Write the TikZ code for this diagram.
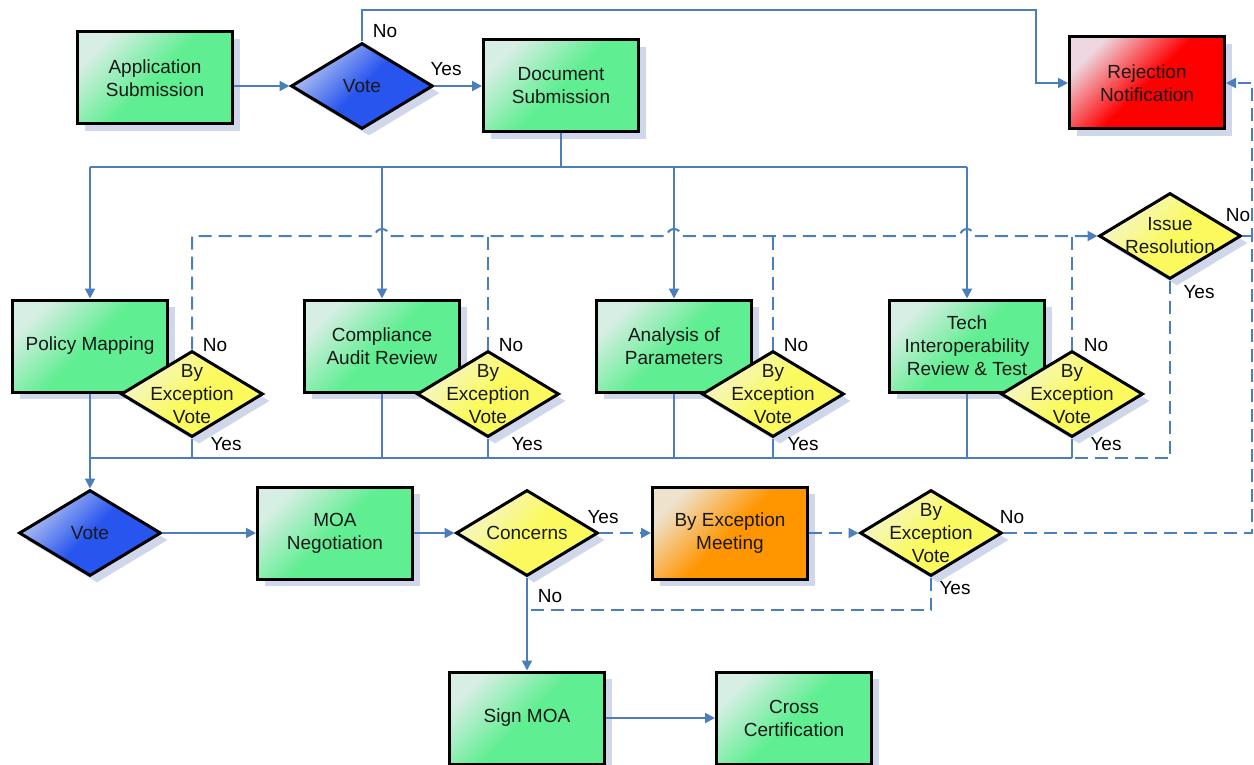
\documentclass[tikz,border=0pt]{standalone}
\usepackage{fontspec}
\setmainfont{Liberation Sans}
\usetikzlibrary{shapes.geometric,arrows.meta,shadows}
\definecolor{lineblue}{RGB}{74,126,190}
\definecolor{shadowc}{RGB}{208,215,235}
\definecolor{gA}{RGB}{215,238,228}
\definecolor{gB}{RGB}{95,238,145}
\definecolor{bA}{RGB}{185,200,242}
\definecolor{bB}{RGB}{40,85,238}
\definecolor{yA}{RGB}{245,245,208}
\definecolor{yB}{RGB}{250,250,95}
\definecolor{rA}{RGB}{238,215,225}
\definecolor{rB}{RGB}{255,0,0}
\definecolor{oA}{RGB}{238,226,205}
\definecolor{oB}{RGB}{255,150,0}
\begin{document}
\begin{tikzpicture}[x=1pt,y=-1pt,
  every node/.style={font=\fontsize{19}{23}\selectfont, text=black!90},
  shadowed/.style={drop shadow={shadow xshift=7pt, shadow yshift=-7pt, fill=shadowc, opacity=1}},
  box/.style={rectangle, draw=black, line width=3pt, minimum width=155pt, minimum height=92pt, align=center, inner sep=2pt, shadowed},
  greenbox/.style={box, top color=gA, bottom color=gB, middle color=gB, shading angle=45},
  redbox/.style={box, top color=rA, bottom color=rB, middle color=rB, shading angle=45},
  orangebox/.style={box, top color=oA, bottom color=oB, middle color=oB, shading angle=45},
  dia/.style={diamond, draw=black, line width=3pt, minimum width=142pt, minimum height=86pt, inner sep=0pt, shadowed},
  bluedia/.style={dia, top color=bA, bottom color=bB, middle color=bB, shading angle=45},
  yellowdia/.style={dia, top color=yA, bottom color=yB, middle color=yB, shading angle=45},
  inlbl/.style={align=center},
  conn/.style={draw=lineblue, line width=2pt},
  arr/.style={-{Triangle[length=10pt,width=10pt]}},
  dashline/.style={dash pattern=on 13pt off 7pt},
  lbl/.style={inner sep=0pt, text=black}
  ]
\useasboundingbox (0,0) rectangle (1254,765);

% ---- nodes ----
\node[greenbox] (app) at (155,78) {Application\\Submission};
\node[bluedia, label={[inlbl]center:Vote}] (vote1) at (362,86) {};
\node[greenbox] (doc) at (561,86) {Document\\Submission};
\node[redbox] (rej) at (1147,83) {Rejection\\Notification};

\node[greenbox] (pm) at (90,346) {Policy Mapping};
\node[yellowdia, label={[inlbl]center:By\\Exception\\Vote}] (ev1) at (192,394) {};
\node[greenbox] (car) at (382,346) {Compliance\\Audit Review};
\node[yellowdia, label={[inlbl]center:By\\Exception\\Vote}] (ev2) at (488,394) {};
\node[greenbox] (ana) at (674,346) {Analysis of\\Parameters};
\node[yellowdia, label={[inlbl]center:By\\Exception\\Vote}] (ev3) at (773,394) {};
\node[greenbox] (tech) at (967,346) {Tech\\Interoperability\\Review \& Test};
\node[yellowdia, label={[inlbl]center:By\\Exception\\Vote}] (ev4) at (1072,394) {};
\node[yellowdia, label={[inlbl]center:Issue\\Resolution}] (ir) at (1170,236) {};

\node[bluedia, label={[inlbl]center:Vote}] (vote2) at (90,533) {};
\node[greenbox] (moa) at (335,533) {MOA\\Negotiation};
\node[yellowdia, label={[inlbl]center:Concerns}] (conc) at (527,533) {};
\node[orangebox] (bem) at (730,533) {By Exception\\Meeting};
\node[yellowdia, label={[inlbl]center:By\\Exception\\Vote}] (ev5) at (931,533) {};
\node[greenbox] (sign) at (527,718) {Sign MOA};
\node[greenbox] (cross) at (794,718) {Cross\\Certification};

% ---- helper coordinates ----
\coordinate (topr) at (1036,10);
\coordinate (split) at (561,167);
\coordinate (busL) at (90,458);
\coordinate (edgeB) at (1252,533);
\coordinate (yesj) at (527,610);

% ---- connectors ----
\draw[conn,arr] (vote1.west -| app.east) -- (vote1.west);
\draw[conn,arr] (vote1.east) -- (doc.west);
\draw[conn,arr] (vote1.north) |- (topr) |- (rej.west);

\draw[conn] (doc.south) -- (split);
\draw[conn] (pm.north |- split) -- (tech.north |- split);
\draw[conn,arr] (pm.north |- split) -- (pm.north);
\draw[conn,arr] (car.north |- split) -- (car.north);
\draw[conn,arr] (ana.north |- split) -- (ana.north);
\draw[conn,arr] (tech.north |- split) -- (tech.north);

\draw[conn,dashline,arr] (ev1.north) |- (375,236) arc (180:360:7) -- (667,236) arc (180:360:7) -- (960,236) arc (180:360:7) -- (ir.west);
\draw[conn,dashline] (ev2.north) -- (ev2.north |- ir.west);
\draw[conn,dashline] (ev3.north) -- (ev3.north |- ir.west);
\draw[conn,dashline] (ev4.north) -- (ev4.north |- ir.west);

\draw[conn] (busL) -- (ev4.south |- busL);
\draw[conn] (ev1.south) -- (ev1.south |- busL);
\draw[conn] (car.south) -- (car.south |- busL);
\draw[conn] (ev2.south) -- (ev2.south |- busL);
\draw[conn] (ana.south) -- (ana.south |- busL);
\draw[conn] (ev3.south) -- (ev3.south |- busL);
\draw[conn] (tech.south) -- (tech.south |- busL);
\draw[conn] (ev4.south) -- (ev4.south |- busL);
\draw[conn,dashline] (ir.south) |- (ev4.south |- busL);
\draw[conn,arr] (pm.south) -- (vote2.north);

\draw[conn,arr] (vote2.east) -- (moa.west);
\draw[conn,arr] (moa.east) -- (conc.west);
\draw[conn,dashline,arr] (conc.east) -- (bem.west);
\draw[conn,dashline,arr] (bem.east) -- (ev5.west);
\draw[conn,dashline,arr] (ev5.east) -- (edgeB) |- (rej.east);
\draw[conn] (ir.east) -- (ir.east -| edgeB);
\draw[conn,dashline] (ev5.south) |- (yesj);
\draw[conn,arr] (conc.south) -- (sign.north);
\draw[conn,arr] (sign.east) -- (cross.west);

% ---- branch labels ----
\node[lbl] (l1) at (385,31) {No};
\node[lbl] (l2) at (446,69) {Yes};
\node[lbl] (l3) at (215,345) {No};
\node[lbl] (l4) at (226,444) {Yes};
\node[lbl] (l5) at (511,345) {No};
\node[lbl] (l6) at (527,444) {Yes};
\node[lbl] (l7) at (796,345) {No};
\node[lbl] (l8) at (803,444) {Yes};
\node[lbl] (l9) at (1096,345) {No};
\node[lbl] (l10) at (1106,444) {Yes};
\node[lbl] (l11) at (1238,215) {No};
\node[lbl] (l12) at (1199,292) {Yes};
\node[lbl] (l13) at (603,517) {Yes};
\node[lbl] (l14) at (550,596) {No};
\node[lbl] (l15) at (1012,517) {No};
\node[lbl] (l16) at (955,588) {Yes};
\end{tikzpicture}
\end{document}
